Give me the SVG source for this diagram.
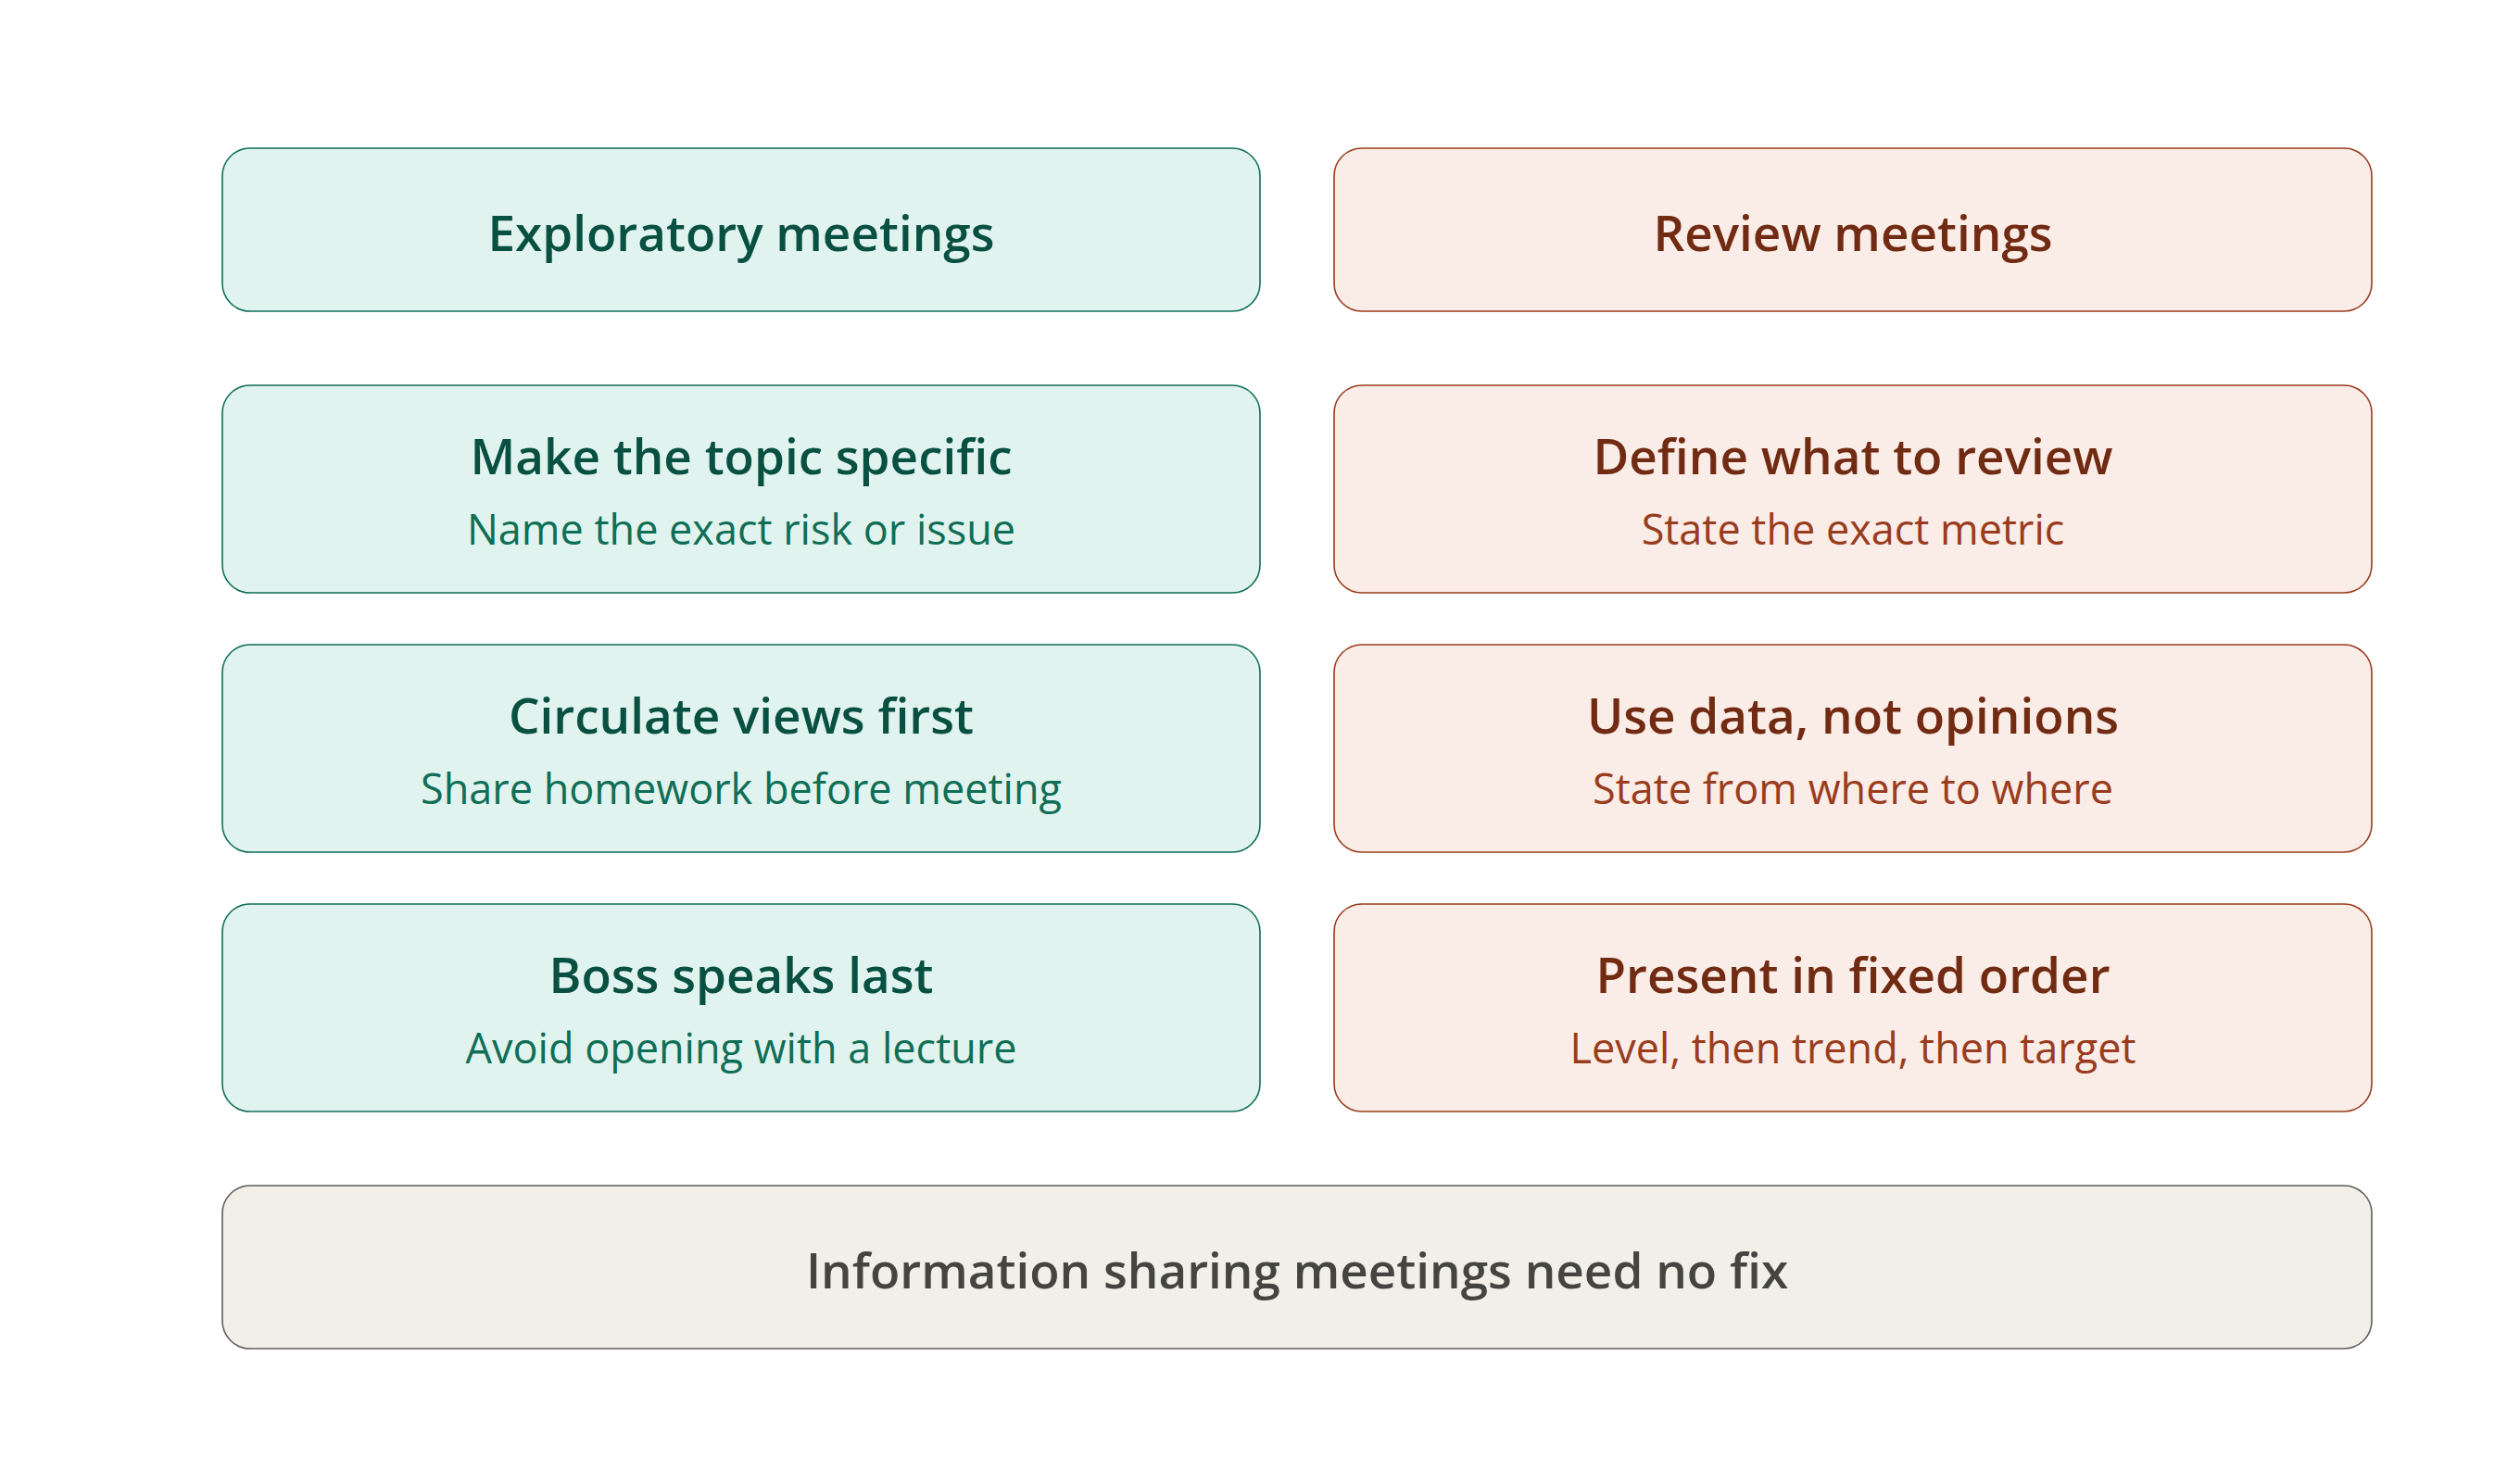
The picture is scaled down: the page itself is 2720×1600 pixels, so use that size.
<svg xmlns="http://www.w3.org/2000/svg" width="2720" height="1600" viewBox="0 0 2720 1600">
<style>
text{font-family:"Open Sans","Noto Sans","Liberation Sans",sans-serif;text-anchor:middle}
.g rect{fill:#E1F3EE;stroke:#0F6E56;stroke-width:1.6}
.r rect{fill:#FAECE7;stroke:#993C1D;stroke-width:1.6}
.n rect{fill:#F1EFE8;stroke:#5F5E5A;stroke-width:1.6}
.h{font-size:53px;font-weight:600}
.s{font-size:45px;font-weight:400}
.g .h{fill:#085041}.g .s{fill:#0F6E56}
.r .h{fill:#712B13}.r .s{fill:#993C1D}
.n .h{fill:#444441}
</style>
<rect width="2720" height="1600" fill="#FFFFFF"/>
<g id="connectors"></g>
<g id="explore-title" class="g"><rect x="240" y="160" width="1120" height="176" rx="30"/><text class="h" x="800" y="271">Exploratory meetings</text></g>
<g id="review-title" class="r"><rect x="1440" y="160" width="1120" height="176" rx="30"/><text class="h" x="2000" y="271">Review meetings</text></g>
<g id="explore-1" class="g"><rect x="240" y="416" width="1120" height="224" rx="30"/><text class="h" x="800" y="512">Make the topic specific</text><text class="s" x="800" y="588">Name the exact risk or issue</text></g>
<g id="review-1" class="r"><rect x="1440" y="416" width="1120" height="224" rx="30"/><text class="h" x="2000" y="512">Define what to review</text><text class="s" x="2000" y="588">State the exact metric</text></g>
<g id="explore-2" class="g"><rect x="240" y="696" width="1120" height="224" rx="30"/><text class="h" x="800" y="792">Circulate views first</text><text class="s" x="800" y="868">Share homework before meeting</text></g>
<g id="review-2" class="r"><rect x="1440" y="696" width="1120" height="224" rx="30"/><text class="h" x="2000" y="792">Use data, not opinions</text><text class="s" x="2000" y="868">State from where to where</text></g>
<g id="explore-3" class="g"><rect x="240" y="976" width="1120" height="224" rx="30"/><text class="h" x="800" y="1072">Boss speaks last</text><text class="s" x="800" y="1148">Avoid opening with a lecture</text></g>
<g id="review-3" class="r"><rect x="1440" y="976" width="1120" height="224" rx="30"/><text class="h" x="2000" y="1072">Present in fixed order</text><text class="s" x="2000" y="1148">Level, then trend, then target</text></g>
<g id="info-sharing" class="n"><rect x="240" y="1280" width="2320" height="176" rx="30"/><text class="h" x="1400" y="1391">Information sharing meetings need no fix</text></g>
</svg>
